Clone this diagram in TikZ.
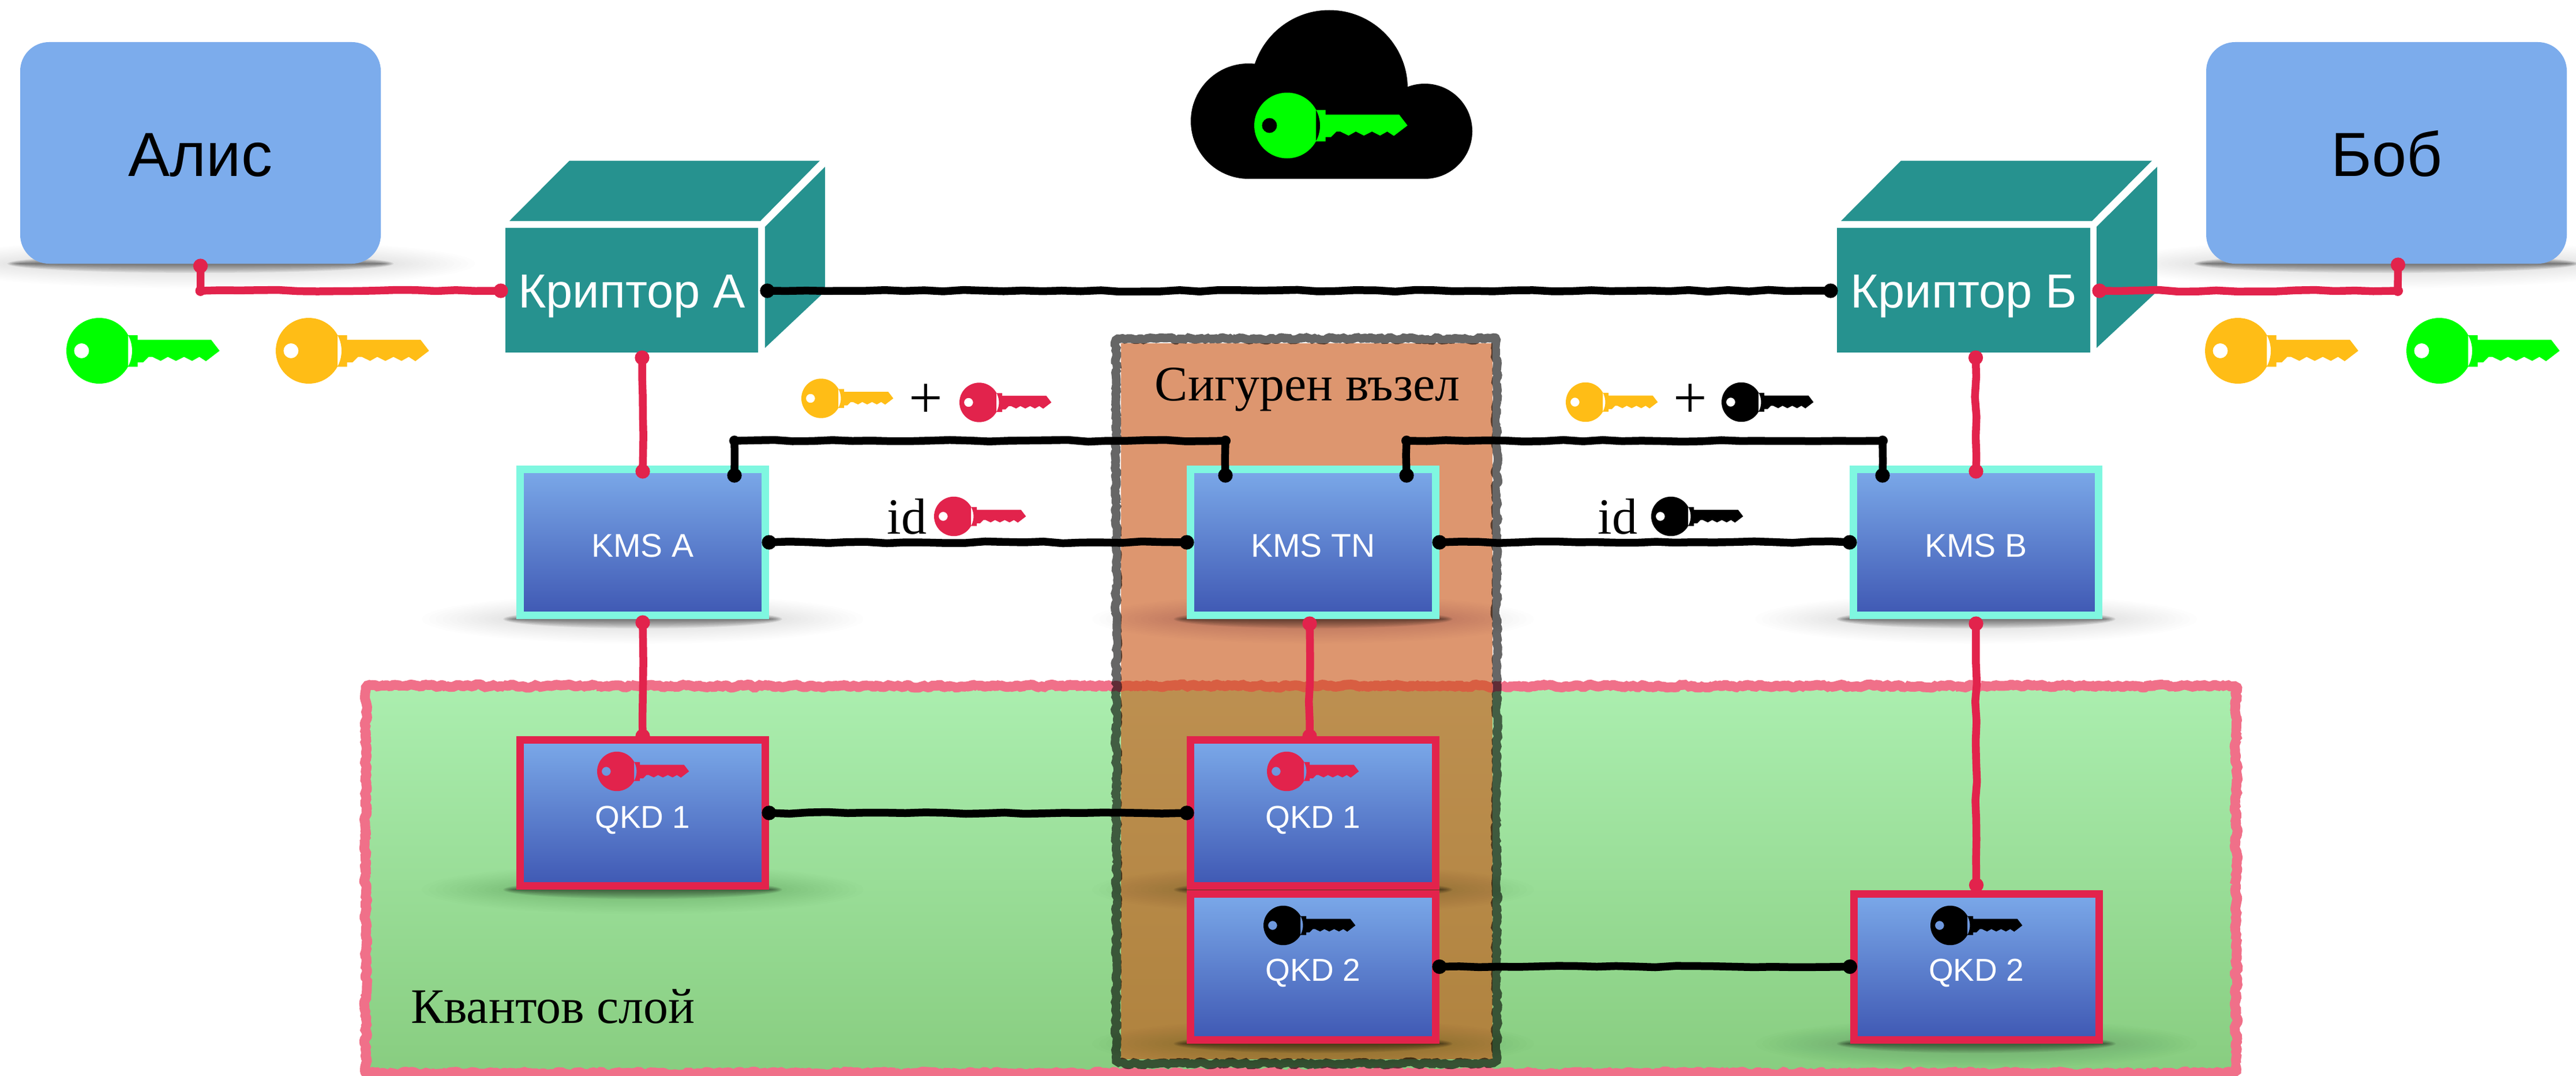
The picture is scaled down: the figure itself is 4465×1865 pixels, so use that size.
\documentclass[tikz,border=0pt]{standalone}
\usepackage{fontspec}
\setmainfont{Liberation Serif}
\setsansfont{Liberation Sans}
\usetikzlibrary{arrows.meta,decorations.pathmorphing}
\definecolor{boxblue}{HTML}{7CACEC}
\definecolor{gradtop}{HTML}{7BA9E9}
\definecolor{gradbot}{HTML}{3F58B3}
\definecolor{teal1}{HTML}{26928F}
\definecolor{aqua}{HTML}{7FF7E0}
\definecolor{keyred}{HTML}{E2234C}
\definecolor{keygreen}{HTML}{00FF00}
\definecolor{keyorange}{HTML}{FFBD16}
\definecolor{pinkline}{HTML}{F07089}
\definecolor{greentop}{HTML}{ABEEAF}
\definecolor{greenbot}{HTML}{88CD80}
\definecolor{orangeover}{HTML}{C95415}
\newcommand{\fsz}[1]{\fontsize{#1}{#1}\selectfont}
\newcommand{\keyicon}[4]{%
  \fill[#4,even odd rule,shift={(#1,#2)},scale=#3,xshift=57pt]
    (0,0) circle[radius=57]
    (-30.6,0) circle[radius=13]
    (50,-27) -- (66.5,-27) -- (66.5,-19) -- (194,-19) -- (208.6,0) -- (185,18)
    -- (173.5,10.5) -- (161,17.5) -- (147,10.5) -- (133,17.5) -- (119,10.5)
    -- (106.5,17.5) -- (92,10.5) -- (85.5,10.5) -- (76,20) -- (66.5,20) -- (66.5,27.5) -- (50,27.5) -- cycle;}
\newcommand{\softshadow}[3]{%
  \foreach \i in {1,...,12}
    \fill[black,opacity=.009] (#1,#2) ellipse[x radius={#3+20+12*\i}, y radius={14+2.4*\i}];
  \foreach \i in {1,...,8}
    \fill[black,opacity=.075] (#1,#2) ellipse[x radius={#3+2+2.6*\i}, y radius={2*\i}];}
\tikzset{
  wire/.style={line width=13.5pt,line join=round,decorate,
    decoration={random steps,segment length=34pt,amplitude=1.6pt},
    {Circle[length=25pt,width=25pt]}-{Circle[length=25pt,width=25pt]},
    shorten <=-12.5pt,shorten >=-12.5pt},
  redwire/.style={wire,draw=keyred},
  blackwire/.style={wire,draw=black},
  person/.style={fill=boxblue,rounded corners=50pt,inner sep=0pt,outer sep=0pt,
    minimum width=625pt,minimum height=384pt,font=\sffamily\fsz{108},text depth=0pt,text height=80pt},
  cube/.style={fill=teal1,inner sep=0pt,outer sep=0pt,minimum width=#1,minimum height=216pt,
    text=white,font=\sffamily\fsz{83},text depth=0pt,text height=60pt},
  kmsbox/.style={draw=aqua,line width=13pt,top color=gradtop,bottom color=gradbot,
    inner sep=0pt,outer sep=6.5pt,minimum width=425pt,minimum height=253pt,
    text=white,font=\sffamily\fsz{57},text depth=0pt,text height=50pt},
  qkdbox/.style={draw=keyred,line width=13pt,top color=gradtop,bottom color=gradbot,
    inner sep=0pt,outer sep=6.5pt,minimum width=425pt,minimum height=253pt,
    text=white,font=\sffamily\fsz{55},text depth=0pt,text height=#1},
  rough/.style={line join=bevel,decorate,decoration={random steps,segment length=5pt,amplitude=3pt}},
  serifl/.style={inner sep=0pt,outer sep=0pt,font=\rmfamily\fsz{86},text=black}
}
\begin{document}
\begin{tikzpicture}[x=1pt,y=-1pt]
\pgfmathsetseed{11}
\useasboundingbox (0,0) rectangle (4465,1865);
\fill[white] (0,0) rectangle (4465,1865);
% quantum layer
\node[top color=greentop,bottom color=greenbot,inner sep=0pt,outer sep=0pt,
  minimum width=3242pt,minimum height=671pt] (layer) at (2255,1524.5) {};
\draw[pinkline,line width=17pt,rough] (layer.north west) rectangle (layer.south east);
% secure node
\node[fill=orangeover,fill opacity=.61,inner sep=0pt,outer sep=0pt,
  minimum width=644pt,minimum height=1241pt] (secure) at (2264.5,1215) {};
\draw[black,opacity=.6,line width=15pt,rough] ([xshift=-7.5pt,yshift=7.5pt]secure.north west) rectangle ([xshift=7.5pt,yshift=-7.5pt]secure.south east);
% shadows
\softshadow{347.5}{457}{312}
\softshadow{4136.5}{457}{311}
\softshadow{1114}{1073}{219}
\softshadow{2276}{1073}{219}
\softshadow{3425}{1073}{219}
\softshadow{1114}{1542}{219}
\softshadow{2276}{1542}{219}
\softshadow{2276}{1809}{219}
\softshadow{3425.5}{1809}{219}
% people
\node[person] (alice) at (347.5,265) {Алис};
\node[person] (bob) at (4136.5,265) {Боб};
% cloud
\fill[black] (2304,153.5) circle[radius=136];
\fill[black] (2164,210) circle[radius=100];
\fill[black] (2469.5,227.5) circle[radius=82.5];
\fill[black] (2164,190) rectangle (2469.5,310);
\keyicon{2174}{217.5}{1}{keygreen}
% cubes
\fill[teal1] (883,383) -- (987,278.5) -- (1421,278.5) -- (1318,383) -- cycle;
\fill[teal1] (1326,393) -- (1430,289) -- (1430,505) -- (1326,603) -- cycle;
\node[cube=438pt] (cryptA) at (1095,503) {Криптор А};
\fill[teal1] (3191,383) -- (3295,278.5) -- (3730,278.5) -- (3626,383) -- cycle;
\fill[teal1] (3634,393) -- (3739,289) -- (3739,505) -- (3634,603) -- cycle;
\node[cube=439pt] (cryptB) at (3403.5,503) {Криптор Б};
% KMS
\node[kmsbox] (kmsA) at (1114,940) {KMS A};
\node[kmsbox] (kmsTN) at (2276,940) {KMS TN};
\node[kmsbox] (kmsB) at (3425,940) {KMS B};
% KMS to QKD
\draw[redwire] ([yshift=-6pt]kmsA.south) -- (1114,1276);
\draw[redwire] ([xshift=-6pt,yshift=-8pt]kmsTN.south) -- (2270,1276);
\draw[redwire] ([yshift=-8pt]kmsB.south) -- (3425.5,1534);
% QKD
\node[qkdbox=52pt] (qkdA) at (1114,1409) {QKD 1};
\node[qkdbox=52pt] (qkdT1) at (2276,1409) {QKD 1};
\node[qkdbox=49pt] (qkdT2) at (2276,1675.5) {QKD 2};
\node[qkdbox=49pt] (qkdB) at (3425.5,1675.5) {QKD 2};
\keyicon{1035}{1337}{.6}{keyred}
\keyicon{2196}{1337}{.6}{keyred}
\keyicon{2190}{1604}{.6}{black}
\keyicon{3346}{1604}{.6}{black}
% free keys
\keyicon{115}{608}{1}{keygreen}
\keyicon{478}{608}{1}{keyorange}
\keyicon{3822}{608}{1}{keyorange}
\keyicon{4171}{608}{1}{keygreen}
\keyicon{1389}{690.5}{.6}{keyorange}
\keyicon{1663}{697.5}{.6}{keyred}
\keyicon{2714}{697}{.6}{keyorange}
\keyicon{2984}{697}{.6}{black}
\keyicon{1619}{895}{.6}{keyred}
\keyicon{2862}{895}{.6}{black}
% labels
\node[serifl,anchor=base] (secLabel) at (2266,694) {Сигурен възел};
\node[serifl,anchor=base west] (quantLabel) at (712,1773) {Квантов слой};
\node[serifl,anchor=base east,font=\rmfamily\fsz{88}] (idA) at (1606,925) {id};
\node[serifl,anchor=base east,font=\rmfamily\fsz{88}] (idB) at (2838,925) {id};
\node[serifl,font=\rmfamily\fsz{104}] (plusA) at (1605,695) {+};
\node[serifl,font=\rmfamily\fsz{104}] (plusB) at (2930,695) {+};
% connectors
\coordinate (aliceCorner) at (347.5,504);
\coordinate (bobCorner) at (4156,504);
\fill[keyred] (aliceCorner) circle[radius=9];
\fill[keyred] (bobCorner) circle[radius=9];
\draw[redwire] ([yshift=-4pt]alice.south) -- (aliceCorner) -- ([xshift=-8pt,yshift=-1pt]cryptA.west);
\draw[redwire] ([xshift=16pt,yshift=-1pt]cryptB.east) -- (bobCorner) -- ([xshift=20pt,yshift=-2pt]bob.south);
\draw[blackwire] ([xshift=16pt,yshift=-1pt]cryptA.east) -- ([xshift=-11pt,yshift=-1pt]cryptB.west);
\draw[redwire] ([xshift=18pt,yshift=-9pt]cryptA.south) -- ([yshift=-10pt]kmsA.north);
\draw[redwire] ([xshift=21pt,yshift=-9pt]cryptB.south) -- ([yshift=-10pt]kmsB.north);
\coordinate (a1) at (1273,764); \coordinate (a2) at (2124,764);
\coordinate (b1) at (2438,764); \coordinate (b2) at (3263,764);
\foreach \c in {a1,a2,b1,b2} \fill[black] (\c) circle[radius=9];
\draw[blackwire] (1273,824) -- (a1) -- (a2) -- (2124,824);
\draw[blackwire] (2438,824) -- (b1) -- (b2) -- (3263,824);
\draw[blackwire] (kmsA.east) -- (kmsTN.west);
\draw[blackwire] (kmsTN.east) -- (kmsB.west);
\draw[blackwire] (qkdA.east) -- (qkdT1.west);
\draw[blackwire] (qkdT2.east) -- (qkdB.west);
\end{tikzpicture}
\end{document}
